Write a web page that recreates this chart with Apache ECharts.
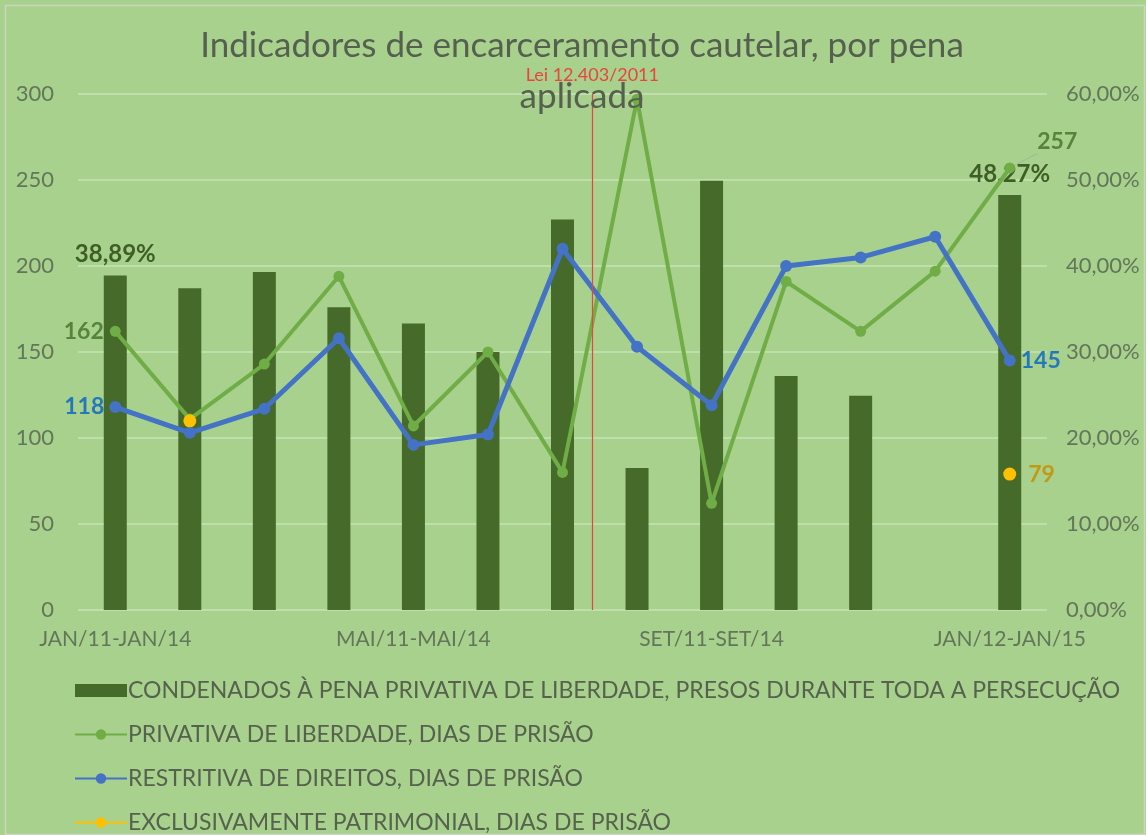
<!DOCTYPE html>
<html>
<head>
<meta charset="utf-8">
<script src="https://cdn.jsdelivr.net/npm/echarts@6/dist/echarts.min.js"></script>
<style>
  html, body { margin: 0; padding: 0; background: #ffffff; }
  #chart { position: absolute; left: 0; top: 0; width: 1146px; height: 835px; }
</style>
</head>
<body>
<div id="chart"></div>
<script>
// ---- Data ----
const categories = [
  'JAN/11-JAN/14', 'FEV/11-FEV/14', 'MAR/11-MAR/14', 'ABR/11-ABR/14',
  'MAI/11-MAI/14', 'JUN/11-JUN/14', 'JUL/11-JUL/14', 'AGO/11-AGO/14',
  'SET/11-SET/14', 'OUT/11-OUT/14', 'NOV/11-NOV/14', 'DEZ/11-DEZ/14',
  'JAN/12-JAN/15'
];
// % condenados à pena privativa de liberdade presos durante toda a persecução (right axis)
const presosPct = [38.89, 37.4, 39.3, 35.2, 33.3, 30.0, 45.4, 16.5, 49.9, 27.2, 24.9, null, 48.27];
// dias de prisão (left axis)
const privativaDias = [162, 111, 143, 194, 107, 150, 80, 297, 62, 191, 162, 197, 257];
const restritivaDias = [118, 103, 117, 158, 96, 102, 210, 153, 119, 200, 205, 217, 145];
const patrimonialDias = [null, 110, null, null, null, null, null, null, null, null, null, null, 79];

const seriesNames = [
  'CONDENADOS À PENA PRIVATIVA DE LIBERDADE, PRESOS DURANTE TODA A PERSECUÇÃO',
  'PRIVATIVA DE LIBERDADE, DIAS DE PRISÃO',
  'RESTRITIVA DE DIREITOS, DIAS DE PRISÃO',
  'EXCLUSIVAMENTE PATRIMONIAL, DIAS DE PRISÃO'
];
const titleText = 'Indicadores de encarceramento cautelar, por pena\naplicada';
const lawLabel = 'Lei 12.403/2011';
const lawPosition = 6.4; // between JUL and AGO categories

const leftAxis = { min: 0, max: 300, interval: 50 };
const rightAxis = { min: 0, max: 60, interval: 10 };

// which points carry a data label in the picture
const presosLabeled = [0, 12];
const privativaLabeled = [0, 12];
const restritivaLabeled = [0, 12];
const patrimonialLabeled = [12];

// ---- Styling ----
const FONT = 'Lato';
const C = {
  bg: '#a9d18e', bar: '#456a29', green: '#70ad47', blue: '#4472c4', yellow: '#ffc000',
  axisText: '#627659', legendText: '#56624d', title: '#56604f', grid: '#c8e2b6',
  barLabel: '#3d5f25', greenLabel: '#55843a', blueLabel: '#2477bb', yellowLabel: '#bf9a12', red: '#e8453c'
};
const fmtPct = (v, d) => v.toFixed(d).replace('.', ',') + '%';

function build(values, labeled, cfg) {
  return values.map((v, i) => {
    if (!labeled.includes(i) || v == null) return v;
    return Object.assign({ value: v }, cfg(i));
  });
}

const chart = echarts.init(document.getElementById('chart'));
chart.setOption({
  backgroundColor: C.bg,
  animation: false,
  textStyle: { fontFamily: FONT },
  graphic: [{
    type: 'rect', left: 3, top: 3, silent: true,
    shape: { width: 1139, height: 829 },
    style: { fill: 'none', stroke: '#c9d6c0', lineWidth: 1.5 }
  }],
  title: {
    text: titleText, left: 577, textAlign: 'center', top: 15,
    textStyle: { fontFamily: FONT, fontSize: 35, fontWeight: 'normal', color: C.title, lineHeight: 51 }
  },
  grid: { left: 78, right: 99, top: 94, bottom: 225, containLabel: false },
  legend: {
    orient: 'vertical', left: 74, top: 679, padding: 0,
    itemWidth: 52, itemHeight: 13, itemGap: 21,
    textStyle: { fontFamily: FONT, fontSize: 23, lineHeight: 20, color: C.legendText, padding: [0, 0, 0, -4] },
    data: [
      { name: seriesNames[0], icon: 'rect' },
      { name: seriesNames[1] },
      { name: seriesNames[2] },
      { name: seriesNames[3] }
    ]
  },
  xAxis: [
    {
      type: 'category', data: categories, boundaryGap: true,
      axisLine: { show: false }, axisTick: { show: false },
      axisLabel: { interval: 3, color: C.axisText, fontSize: 21, margin: 19, fontFamily: FONT }
    },
    { type: 'value', min: -0.5, max: categories.length - 0.5, show: false }
  ],
  yAxis: [
    {
      type: 'value', min: leftAxis.min, max: leftAxis.max, interval: leftAxis.interval,
      axisLine: { show: false }, axisTick: { show: false },
      axisLabel: { color: C.axisText, fontSize: 22, margin: 24, fontFamily: FONT },
      splitLine: { lineStyle: { color: C.grid, width: 1.5 } }
    },
    {
      type: 'value', min: rightAxis.min, max: rightAxis.max, interval: rightAxis.interval,
      axisLine: { show: false }, axisTick: { show: false },
      axisLabel: { color: C.axisText, fontSize: 22, margin: 19, fontFamily: FONT, formatter: v => fmtPct(v, 2) },
      splitLine: { show: false }
    }
  ],
  series: [
    {
      name: seriesNames[0], type: 'bar', yAxisIndex: 1, barWidth: 23,
      itemStyle: { color: C.bar },
      data: build(presosPct, presosLabeled, () => ({
        label: { show: true, position: 'top', distance: 9, fontSize: 24, fontWeight: 'bold', color: C.barLabel,
                 formatter: p => fmtPct(p.value, 2) }
      }))
    },
    {
      name: seriesNames[1], type: 'line', yAxisIndex: 0,
      lineStyle: { color: C.green, width: 4 }, itemStyle: { color: C.green },
      symbol: 'circle', symbolSize: 11,
      data: build(privativaDias, privativaLabeled, i => i === 0 ? ({
        label: { show: true, position: 'left', distance: 6, fontSize: 23, fontWeight: 'bold', color: C.greenLabel }
      }) : ({
        label: { show: true, position: 'right', distance: 0, offset: [22, -26], fontSize: 23, fontWeight: 'bold', color: C.greenLabel },
        labelLine: { show: true, lineStyle: { color: '#9fb894', width: 1 } }
      }))
    },
    {
      name: seriesNames[2], type: 'line', yAxisIndex: 0,
      lineStyle: { color: C.blue, width: 5 }, itemStyle: { color: C.blue },
      symbol: 'circle', symbolSize: 12,
      data: build(restritivaDias, restritivaLabeled, i => ({
        label: { show: true, position: i === 0 ? 'left' : 'right', distance: 5, fontSize: 23, fontWeight: 'bold', color: C.blueLabel }
      }))
    },
    {
      name: seriesNames[3], type: 'line', yAxisIndex: 0, connectNulls: false,
      lineStyle: { color: C.yellow, width: 4 }, itemStyle: { color: C.yellow },
      symbol: 'circle', symbolSize: 13,
      data: build(patrimonialDias, patrimonialLabeled, () => ({
        label: { show: true, position: 'right', distance: 12, fontSize: 23, fontWeight: 'bold', color: C.yellowLabel }
      }))
    },
    {
      name: 'lei', type: 'line', xAxisIndex: 1, yAxisIndex: 0, data: [],
      markLine: {
        silent: true, symbol: 'none', animation: false,
        lineStyle: { color: C.red, width: 1.2, type: 'solid' },
        label: { show: true, position: 'end', distance: 10, formatter: lawLabel, color: C.red, fontSize: 18, fontFamily: FONT },
        data: [{ xAxis: lawPosition }]
      }
    }
  ]
});
</script>
</body>
</html>
